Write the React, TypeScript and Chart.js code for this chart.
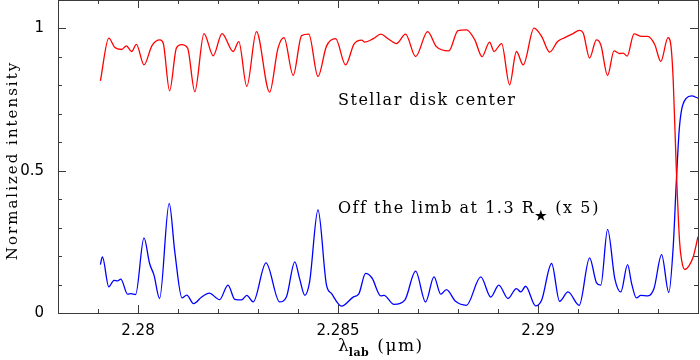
import React, { useEffect, useRef } from "react";
import { Chart, registerables } from "chart.js";
Chart.register(...registerables);

// Stellar disk center spectrum (red)
const diskX = [
  2.27906, 2.27927, 2.27942, 2.27959, 2.27971, 2.27984, 2.27996, 2.28015, 2.28035, 2.28055,
  2.28063, 2.28079, 2.28096, 2.28109, 2.28124, 2.28142, 2.28165, 2.28188, 2.2821, 2.28238,
  2.28252, 2.28272, 2.28296, 2.28329, 2.2835, 2.28365, 2.28388, 2.28409, 2.28427, 2.2845,
  2.28471, 2.28494, 2.28519, 2.2854, 2.28559, 2.28567, 2.28588, 2.28607, 2.28625, 2.28646,
  2.28669, 2.28694, 2.28724, 2.28746, 2.28777, 2.288, 2.28821, 2.28842, 2.2886, 2.28879,
  2.2889, 2.28909, 2.28929, 2.28946, 2.28963, 2.2899, 2.29009, 2.29029, 2.29049, 2.29067,
  2.29085, 2.29104, 2.29113, 2.29129, 2.29146, 2.29157, 2.29174, 2.2919, 2.29204, 2.29213,
  2.29223, 2.2924, 2.29259, 2.29274, 2.29292, 2.29307, 2.29325, 2.29332, 2.29338, 2.29346,
  2.29354, 2.29359, 2.29367, 2.29377, 2.29388, 2.294,
];
const diskY = [
  0.816, 0.966, 0.933, 0.926, 0.939, 0.919, 0.944, 0.872, 0.94, 0.96,
  0.949, 0.781, 0.931, 0.943, 0.931, 0.778, 0.982, 0.904, 0.982, 0.919,
  0.954, 0.796, 0.989, 0.776, 0.931, 0.968, 0.835, 0.975, 0.98, 0.831,
  0.937, 0.964, 0.872, 0.945, 0.959, 0.952, 0.964, 0.98, 0.964, 0.947,
  0.98, 0.901, 0.989, 0.936, 0.921, 0.992, 0.995, 0.96, 0.901, 0.952,
  0.919, 0.947, 0.802, 0.919, 0.872, 1.001, 0.972, 0.917, 0.954, 0.968,
  0.98, 0.993, 0.984, 0.896, 0.96, 0.943, 0.835, 0.921, 0.912, 0.913,
  0.903, 0.981, 0.972, 0.972, 0.943, 0.884, 0.968, 0.943, 0.819, 0.497,
  0.25, 0.186, 0.153, 0.165, 0.197, 0.268,
];

// Off the limb at 1.3 R* (x 5) spectrum (blue)
const limbX = [
  2.27906, 2.27911, 2.27927, 2.2794, 2.27949, 2.27957, 2.27974, 2.27982, 2.27994, 2.28015,
  2.28029, 2.2804, 2.28054, 2.28078, 2.28092, 2.2811, 2.28122, 2.28139, 2.28159, 2.28178,
  2.28204, 2.28225, 2.28242, 2.28259, 2.28272, 2.28288, 2.2832, 2.28354, 2.28371, 2.28392,
  2.28404, 2.28417, 2.28429, 2.2845, 2.28471, 2.28484, 2.28509, 2.28538, 2.28552, 2.28569,
  2.28585, 2.28607, 2.28615, 2.2864, 2.28667, 2.28694, 2.28719, 2.2874, 2.28757, 2.28771,
  2.28794, 2.28821, 2.28857, 2.28882, 2.28902, 2.28925, 2.28946, 2.28957, 2.28969, 2.28994,
  2.29009, 2.29034, 2.29054, 2.29075, 2.29103, 2.29129, 2.29146, 2.29157, 2.29174, 2.29192,
  2.29207, 2.29224, 2.29234, 2.29246, 2.29257, 2.29275, 2.2929, 2.29309, 2.29327, 2.29338,
  2.29346, 2.29353, 2.29359, 2.29371, 2.29384, 2.294,
];
const limbY = [
  0.17, 0.197, 0.092, 0.115, 0.113, 0.119, 0.066, 0.068, 0.065, 0.264,
  0.174, 0.133, 0.051, 0.385, 0.215, 0.053, 0.063, 0.033, 0.056, 0.07,
  0.047, 0.098, 0.048, 0.046, 0.062, 0.039, 0.176, 0.039, 0.056, 0.18,
  0.121, 0.062, 0.109, 0.362, 0.1, 0.068, 0.024, 0.056, 0.067, 0.139,
  0.123, 0.06, 0.062, 0.03, 0.045, 0.147, 0.039, 0.127, 0.066, 0.082,
  0.041, 0.027, 0.127, 0.056, 0.098, 0.051, 0.086, 0.074, 0.094, 0.025,
  0.045, 0.174, 0.041, 0.074, 0.027, 0.194, 0.107, 0.098, 0.294, 0.121,
  0.074, 0.17, 0.104, 0.053, 0.062, 0.06, 0.086, 0.205, 0.072, 0.232,
  0.467, 0.643, 0.714, 0.755, 0.763, 0.755,
];

const xMajorTicks = [2.28, 2.285, 2.29];
const xMinorTicks = [2.279, 2.281, 2.282, 2.283, 2.284, 2.286, 2.287, 2.288, 2.289, 2.291, 2.292, 2.293];
const xTickLabels = ["2.28", "2.285", "2.29"];
const yMajorTicks = [0, 0.5, 1];
const yMinorTicks = [0.1, 0.2, 0.3, 0.4, 0.6, 0.7, 0.8, 0.9];
const yTickLabels = ["0", "0.5", "1"];

const diskLabel = "Stellar disk center";
const limbLabelMain = "Off the limb at 1.3 R";
const limbLabelTail = "(x 5)";
const yTitle = "Normalized intensity";

const SERIF = '"DejaVu Serif", serif';
const SANS = '"DejaVu Sans", sans-serif';

const framePlugin = {
  id: "framePlugin",
  afterDraw(chart: any) {
    const ctx = chart.ctx;
    const xs = chart.scales.x;
    const ys = chart.scales.y;
    const { left, right, top, bottom } = chart.chartArea;
    ctx.save();
    ctx.strokeStyle = "#3a3a3a";
    ctx.lineWidth = 1;
    ctx.strokeRect(Math.round(left) + 0.5, Math.round(top) + 0.5, Math.round(right - left), Math.round(bottom - top));
    const vtick = (v: number, len: number) => {
      const px = Math.round(xs.getPixelForValue(v)) + 0.5;
      ctx.beginPath();
      ctx.moveTo(px, bottom);
      ctx.lineTo(px, bottom - len);
      ctx.moveTo(px, top);
      ctx.lineTo(px, top + len);
      ctx.stroke();
    };
    const htick = (v: number, len: number) => {
      const py = Math.round(ys.getPixelForValue(v)) + 0.5;
      ctx.beginPath();
      ctx.moveTo(left, py);
      ctx.lineTo(left + len, py);
      ctx.moveTo(right, py);
      ctx.lineTo(right - len, py);
      ctx.stroke();
    };
    xMajorTicks.forEach((v) => vtick(v, 8));
    xMinorTicks.forEach((v) => vtick(v, 4));
    yMajorTicks.forEach((v) => htick(v, 8));
    yMinorTicks.forEach((v) => htick(v, 4));

    // annotations
    ctx.fillStyle = "#000";
    ctx.textBaseline = "middle";
    ctx.textAlign = "left";
    ctx.font = `16px ${SERIF}`;
    (ctx as any).letterSpacing = "1.5px";
    const ax = xs.getPixelForValue(2.285);
    ctx.fillText(diskLabel, ax, ys.getPixelForValue(0.745));
    const ly = ys.getPixelForValue(0.365);
    ctx.fillText(limbLabelMain, ax, ly);
    const w = ctx.measureText(limbLabelMain).width;
    ctx.font = `bold 13px ${SERIF}`;
    (ctx as any).letterSpacing = "0px";
    ctx.fillText("\u2605", ax + w, ly + 7);
    const sw = ctx.measureText("\u2605").width;
    ctx.font = `16px ${SERIF}`;
    (ctx as any).letterSpacing = "1.6px";
    ctx.fillText(limbLabelTail, ax + w + sw + 8, ly);

    // y title
    ctx.save();
    ctx.translate(13, (top + bottom) / 2 + 4);
    ctx.rotate(-Math.PI / 2);
    ctx.textAlign = "center";
    ctx.font = `15px ${SERIF}`;
    (ctx as any).letterSpacing = "2px";
    ctx.fillText(yTitle, 0, 0);
    ctx.restore();

    // x title: lambda_lab (mu m)
    const ty = 347;
    ctx.textAlign = "left";
    (ctx as any).letterSpacing = "0px";
    let sx = xs.getPixelForValue(2.285);
    ctx.font = `17px ${SERIF}`;
    const lw = ctx.measureText("\u03bb").width;
    ctx.fillText("\u03bb", sx, ty);
    sx += lw;
    ctx.font = `bold 11px ${SERIF}`;
    (ctx as any).letterSpacing = "0.5px";
    const sw2 = ctx.measureText("lab").width;
    ctx.fillText("lab", sx, ty + 6);
    sx += sw2 + 8;
    ctx.font = `17px ${SERIF}`;
    (ctx as any).letterSpacing = "1.5px";
    ctx.fillText("(\u03bcm)", sx, ty);
    ctx.restore();
  },
};

export default function App() {
  const ref = useRef<HTMLCanvasElement | null>(null);
  useEffect(() => {
    if (!ref.current) return;
    const chart = new Chart(ref.current, {
      type: "line",
      data: {
        datasets: [
          {
            label: "disk",
            data: diskX.map((x, i) => ({ x, y: diskY[i] })),
            borderColor: "#ff0000",
            borderWidth: 1.3,
            pointRadius: 0,
            cubicInterpolationMode: "monotone",
            fill: false,
          },
          {
            label: "limb",
            data: limbX.map((x, i) => ({ x, y: limbY[i] })),
            borderColor: "#0000ff",
            borderWidth: 1.3,
            pointRadius: 0,
            cubicInterpolationMode: "monotone",
            fill: false,
          },
        ],
      },
      options: {
        animation: false,
        responsive: false,
        maintainAspectRatio: false,
        layout: { padding: { top: 0, right: 2, left: 0, bottom: 0 } },
        plugins: { legend: { display: false }, tooltip: { enabled: false } },
        scales: {
          x: {
            type: "linear",
            min: 2.278,
            max: 2.294,
            grid: { display: false, drawTicks: false },
            border: { display: false },
            afterBuildTicks: (s: any) => {
              s.ticks = xMajorTicks.map((v) => ({ value: v }));
            },
            afterFit: (s: any) => {
              s.height = 47;
              s.paddingLeft = 0;
              s.paddingRight = 0;
            },
            ticks: {
              autoSkip: false,
              maxRotation: 0,
              padding: 9,
              color: "#000",
              font: { family: SANS, size: 15 },
              callback: (v: any) => {
                const i = xMajorTicks.findIndex((t) => Math.abs(t - v) < 1e-7);
                return i >= 0 ? xTickLabels[i] : "";
              },
            },
          },
          y: {
            type: "linear",
            min: 0,
            max: 1.1,
            grid: { display: false, drawTicks: false },
            border: { display: false },
            afterBuildTicks: (s: any) => {
              s.ticks = yMajorTicks.map((v) => ({ value: v }));
            },
            afterFit: (s: any) => {
              s.width = 58;
              s.paddingTop = 0;
              s.paddingBottom = 0;
            },
            ticks: {
              autoSkip: false,
              padding: 14,
              color: "#000",
              font: { family: SANS, size: 15 },
              callback: (v: any) => {
                const i = yMajorTicks.findIndex((t) => Math.abs(t - v) < 1e-7);
                return i >= 0 ? yTickLabels[i] : "";
              },
            },
          },
        },
      },
      plugins: [framePlugin],
    } as any);
    return () => chart.destroy();
  }, []);
  return (
    <div style={{ position: "absolute", left: 0, top: 0, width: 700, height: 360, background: "#fff" }}>
      <canvas ref={ref} width={700} height={360} style={{ width: 700, height: 360, display: "block" }} />
    </div>
  );
}
